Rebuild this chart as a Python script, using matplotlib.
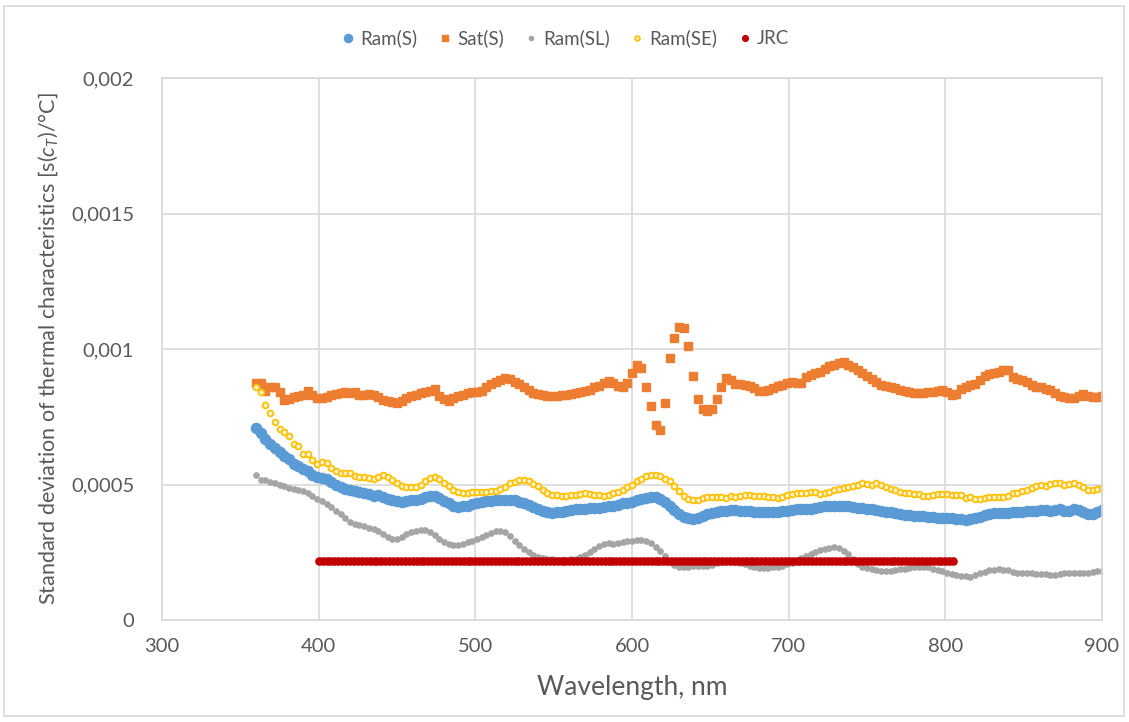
import numpy as np
import matplotlib.pyplot as plt
from matplotlib.patches import Rectangle

plt.rcParams['font.family'] = ['Lato', 'DejaVu Sans']
plt.rcParams['mathtext.fontset'] = 'custom'
plt.rcParams['mathtext.it'] = 'Lato:italic'
plt.rcParams['mathtext.rm'] = 'Lato'

# values in units of 1e-6 1/°C, sampled every 3 nm starting at 360 nm
ram_s = [
    707, 689, 668, 648, 635, 620, 605, 594, 574, 567,
    556, 549, 536, 526, 524, 520, 508, 497, 491, 484,
    479, 475, 471, 467, 464, 459, 460, 455, 447, 442,
    440, 437, 438, 442, 444, 448, 453, 457, 456, 450,
    440, 430, 421, 418, 419, 422, 427, 431, 434, 438,
    440, 442, 443, 444, 444, 442, 437, 431, 424, 417,
    410, 403, 398, 396, 397, 400, 403, 406, 408, 410,
    411, 413, 413, 414, 417, 420, 422, 426, 430, 433,
    437, 442, 447, 452, 455, 453, 448, 437, 422, 405,
    390, 380, 375, 374, 378, 384, 390, 395, 398, 401,
    404, 406, 406, 404, 402, 401, 400, 400, 400, 399,
    400, 400, 401, 404, 406, 408, 410, 410, 411, 413,
    416, 419, 420, 421, 422, 422, 420, 418, 414, 412,
    410, 410, 406, 402, 399, 397, 394, 390, 388, 387,
    384, 382, 382, 381, 379, 377, 376, 378, 376, 372,
    371, 370, 371, 375, 381, 387, 392, 394, 396, 395,
    396, 398, 399, 400, 402, 403, 404, 405, 405, 404,
    406, 410, 403, 404, 410, 406, 400, 392, 392, 400,
    406,
]

sat_s = [
    873, 876, 845, 858, 858, 840, 810, 816, 822, 825,
    830, 846, 830, 820, 820, 824, 832, 835, 836, 842,
    838, 840, 832, 830, 834, 830, 822, 812, 808, 805,
    802, 808, 818, 826, 832, 837, 842, 846, 851, 828,
    815, 809, 820, 828, 832, 836, 840, 842, 846, 858,
    870, 880, 886, 892, 890, 880, 872, 860, 848, 838,
    834, 830, 828, 827, 828, 830, 832, 834, 836, 840,
    845, 850, 858, 865, 876, 882, 873, 862, 859, 873,
    913, 941, 929, 860, 790, 720, 700, 800, 965, 1040,
    1080, 1077, 1010, 900, 815, 778, 770, 778, 815, 860,
    893, 884, 870, 872, 868, 862, 855, 845, 846, 849,
    855, 864, 868, 875, 879, 875, 876, 895, 905, 910,
    916, 925, 937, 942, 948, 952, 942, 935, 922, 910,
    900, 890, 878, 868, 864, 858, 855, 850, 845, 840,
    838, 838, 839, 840, 840, 845, 848, 840, 832, 835,
    852, 860, 866, 872, 885, 900, 906, 910, 915, 922,
    922, 898, 890, 886, 878, 868, 861, 858, 852, 849,
    838, 825, 822, 820, 818, 826, 834, 826, 822, 824,
    827,
]

ram_sl = [
    535, 516, 518, 511, 505, 499, 494, 488, 482, 480,
    476, 470, 459, 448, 438, 428, 417, 402, 391, 376,
    363, 356, 351, 346, 340, 335, 328, 319, 308, 300,
    300, 308, 317, 324, 328, 331, 331, 324, 314, 298,
    287, 280, 277, 278, 281, 286, 292, 298, 306, 315,
    322, 328, 330, 323, 309, 292, 276, 262, 250, 241,
    234, 229, 226, 224, 223, 223, 223, 224, 226, 231,
    241, 252, 262, 272, 280, 283, 282, 283, 286, 290,
    291, 294, 295, 291, 283, 270, 254, 236, 215, 203,
    197, 194, 196, 198, 199, 200, 201, 203, 209, 215,
    218, 218, 215, 210, 205, 201, 196, 193, 192, 193,
    195, 197, 200, 205, 212, 219, 227, 235, 243, 251,
    257, 261, 265, 268, 267, 256, 243, 224, 206, 196,
    191, 188, 185, 182, 182, 182, 185, 187, 190, 193,
    196, 197, 197, 194, 190, 186, 182, 175, 170, 165,
    162, 161, 160, 165, 172, 178, 183, 186, 187, 185,
    183, 178, 175, 172, 172, 172, 171, 170, 169, 167,
    167, 170, 172, 174, 175, 173, 172, 175, 178, 180,
    182,
]

ram_se = [
    859, 842, 795, 762, 730, 706, 695, 680, 650, 643,
    612, 614, 590, 577, 583, 578, 560, 551, 541, 541,
    542, 532, 528, 528, 525, 521, 529, 534, 527, 517,
    507, 494, 492, 492, 492, 500, 512, 524, 528, 521,
    507, 493, 480, 472, 468, 468, 471, 472, 472, 471,
    476, 476, 485, 492, 504, 511, 515, 516, 512, 503,
    494, 479, 468, 463, 460, 459, 459, 461, 463, 464,
    467, 464, 463, 462, 459, 462, 467, 473, 481, 492,
    500, 512, 521, 530, 536, 536, 531, 521, 513, 496,
    476, 458, 447, 443, 444, 449, 453, 455, 455, 455,
    452, 458, 455, 457, 460, 461, 458, 456, 457, 455,
    455, 452, 455, 460, 466, 469, 470, 470, 471, 472,
    465, 467, 473, 479, 484, 487, 491, 494, 500, 504,
    502, 498, 504, 497, 490, 484, 479, 474, 470, 467,
    464, 464, 458, 458, 462, 464, 464, 464, 463, 461,
    460, 451, 455, 448, 447, 450, 454, 455, 455, 455,
    458, 467, 470, 476, 481, 487, 494, 498, 495, 503,
    507, 504, 498, 502, 504, 497, 491, 478, 480, 484,
    486,
]

# JRC: flat value from 400 to ~805 nm
jrc_start, jrc_end, jrc_step = 400, 805, 2.5
jrc_value = 219

x_ticks = [300, 400, 500, 600, 700, 800, 900]
y_ticks = [0, 0.0005, 0.001, 0.0015, 0.002]
y_tick_labels = ['0', '0,0005', '0,001', '0,0015', '0,002']

wl = 360 + 3 * np.arange(len(ram_s))
jrc_wl = np.arange(jrc_start, jrc_end + 0.1, jrc_step)
jrc = [jrc_value] * len(jrc_wl)

fig = plt.figure(figsize=(11.29, 7.22), dpi=100)
ax = fig.add_axes([162 / 1129, 1 - 620 / 722, 940 / 1129, 542 / 722])

ax.plot(wl, np.array(ram_s) * 1e-6, 'o', ms=7.3, color='#5B9BD5', mec='#5B9BD5', label='Ram(S)')
ax.plot(360 + 3 * np.arange(len(sat_s)), np.array(sat_s) * 1e-6, 's', ms=5.8, color='#ED7D31',
        label='Sat(S)')
ax.plot(360 + 3 * np.arange(len(ram_sl)), np.array(ram_sl) * 1e-6, 'o', ms=3.8, color='#A5A5A5',
        label='Ram(SL)')
ax.plot(360 + 3 * np.arange(len(ram_se)), np.array(ram_se) * 1e-6, 'o', ms=4.2, mew=1.3,
        color='#FFC000', mfc='#FFF5D6', label='Ram(SE)')
ax.plot(jrc_wl, np.array(jrc) * 1e-6, 'o', ms=5.2, color='#C00000', label='JRC')

ax.set_xlim(300, 900)
ax.set_ylim(0, 0.002)
ax.set_xticks(x_ticks)
ax.set_yticks(y_ticks)
ax.set_yticklabels(y_tick_labels)
ax.tick_params(length=0, labelsize=14.5, labelcolor='#595959')
ax.tick_params(axis='y', pad=20)
ax.tick_params(axis='x', pad=13)
ax.grid(True, color='#D9D9D9', lw=1.2)
ax.set_axisbelow(True)
for s in ax.spines.values():
    s.set_color('#D9D9D9')
    s.set_linewidth(1.2)

ax.set_xlabel('Wavelength, nm', fontsize=19, color='#595959', labelpad=14)
ax.set_ylabel(r'Standard deviation of thermal characteristics [s($c_T$)/°C]',
              fontsize=15.5, color='#595959', labelpad=8)

fig.legend(loc='center', bbox_to_anchor=(0.5, 0.947), ncol=5, frameon=False,
           fontsize=13.5, labelcolor='#595959', handletextpad=0.2, columnspacing=1.0,
           handlelength=0.9, markerscale=0.8)

fig.patches.append(Rectangle((4 / 1129, 6 / 722), 1120 / 1129, 710 / 722, transform=fig.transFigure,
                             fill=False, edgecolor='#D9D9D9', lw=1.2))

fig.savefig('out.png', dpi=100)
